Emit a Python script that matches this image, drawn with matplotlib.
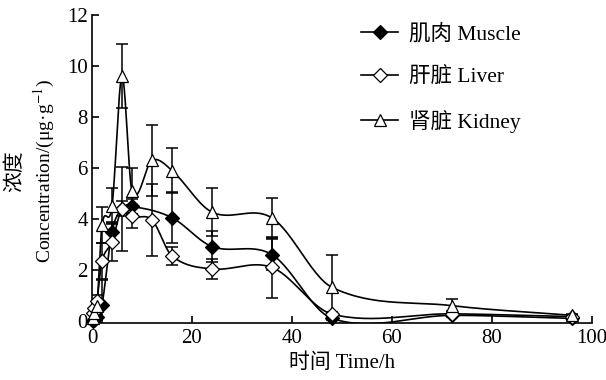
import matplotlib
matplotlib.use("Agg")
import matplotlib.pyplot as plt
import numpy as np

plt.rcParams['font.family'] = ['Liberation Serif', 'Noto Sans CJK SC', 'DejaVu Sans']
plt.rcParams['mathtext.fontset'] = 'stix'

# data
t_muscle = [0.25, 0.5, 1, 2, 4, 6, 8, 16, 24, 36, 48, 72, 96]
muscle = [0.0, 0.05, 0.15, 0.62, 3.5, 4.4, 4.5, 4.05, 2.92, 2.6, 0.1, 0.22, 0.1]
muscle_err = [0.0, 0.0, 0.1, 1.0, 0.4, 0.3, 0.3, 1.0, 0.6, 0.6, 0.05, 0.05, 0.05]

t_liver = [0.25, 0.5, 1, 2, 4, 6, 8, 12, 16, 24, 36, 48, 72, 96]
liver = [0.3, 0.5, 0.8, 2.35, 3.1, 4.4, 4.1, 3.96, 2.55, 2.04, 2.1, 0.27, 0.28, 0.17]
liver_err = [0.1, 0.1, 0.2, 0.7, 0.75, 1.65, 0.45, 1.4, 0.35, 0.4, 1.2, 0.1, 0.1, 0.05]

t_kidney = [0.25, 0.5, 1, 2, 4, 6, 8, 12, 16, 24, 36, 48, 72, 96]
kidney = [0.1, 0.3, 0.6, 3.77, 4.5, 9.6, 5.1, 6.3, 5.9, 4.27, 4.04, 1.32, 0.6, 0.22]
kidney_err = [0.05, 0.1, 0.2, 0.7, 0.7, 1.25, 0.9, 1.4, 0.9, 0.95, 0.8, 1.25, 0.26, 0.05]

labels = ['肌肉 Muscle', '肝脏 Liver', '肾脏 Kidney']


def smooth(t, y, n=30):
    # hermite curve through the points (catmull-rom slopes)
    t = np.asarray(t, float)
    y = np.asarray(y, float)
    m = np.zeros_like(y)
    m[1:-1] = (y[2:] - y[:-2]) / (t[2:] - t[:-2])
    m[0] = (y[1] - y[0]) / (t[1] - t[0])
    m[-1] = (y[-1] - y[-2]) / (t[-1] - t[-2])
    xs, ys = [], []
    for i in range(len(t) - 1):
        h = t[i + 1] - t[i]
        s = np.linspace(0, 1, n, endpoint=False)
        h00 = 2 * s**3 - 3 * s**2 + 1
        h10 = s**3 - 2 * s**2 + s
        h01 = -2 * s**3 + 3 * s**2
        h11 = s**3 - s**2
        xs.append(t[i] + s * h)
        ys.append(h00 * y[i] + h10 * h * m[i] + h01 * y[i + 1] + h11 * h * m[i + 1])
    xs.append([t[-1]])
    ys.append([y[-1]])
    return np.concatenate(xs), np.concatenate(ys)


fig = plt.figure(figsize=(6.06, 3.8), dpi=100)
ax = fig.add_axes([0.1518, 0.15, 0.825, 0.8105])

series = [
    (t_muscle, muscle, muscle_err, 'D', 'k', 7),
    (t_liver, liver, liver_err, 'D', 'white', 7),
    (t_kidney, kidney, kidney_err, '^', 'white', 9),
]

for tt, yy, ee, mk, fc, ms in series:
    sx, sy = smooth(tt, yy)
    ax.plot(sx, sy, color='k', lw=1.2, zorder=2)
for tt, yy, ee, mk, fc, ms in series:
    ax.errorbar(tt, yy, yerr=ee, fmt='none', ecolor='k', elinewidth=1.1,
                capsize=4, capthick=1.1, zorder=3)
for tt, yy, ee, mk, fc, ms in series:
    ax.plot(tt, yy, ls='none', marker=mk, ms=ms, mfc=fc, mec='k', mew=0.9,
            zorder=4, clip_on=False)

handles = []
for (tt, yy, ee, mk, fc, ms), lab in zip(series, labels):
    h, = ax.plot([], [], '-', color='k', lw=1.2, marker=mk, ms=ms * 0.95,
                 mfc=fc, mec='k', mew=0.9, label=lab)
    handles.append(h)

leg = ax.legend(handles=handles, loc='upper left', bbox_to_anchor=(0.5, 1.035),
                frameon=False, fontsize=15.5, handlelength=1.7, handletextpad=0.5,
                labelspacing=1.05)

ax.set_xlim(0, 100)
ax.set_ylim(-0.08, 12)
ax.set_xticks(np.arange(0, 101, 20))
ax.set_yticks(np.arange(0, 13, 2))
ax.tick_params(direction='in', length=5, width=1.2, labelsize=15)
ax.tick_params(axis='x', pad=4)
ax.tick_params(axis='y', pad=3)
ax.spines['top'].set_visible(False)
ax.spines['right'].set_visible(False)
ax.spines['left'].set_linewidth(1.2)
ax.spines['bottom'].set_linewidth(1.2)

ax.set_xlabel('时间 Time/h', fontsize=15, labelpad=4)
fig.text(0.026, 0.55, '浓度', rotation=90, fontsize=15, ha='center', va='center')
fig.text(0.074, 0.55, r'Concentration/(μg·g$^{-1}$)', rotation=90, fontsize=14,
         ha='center', va='center')

fig.savefig('out.png', dpi=100)
